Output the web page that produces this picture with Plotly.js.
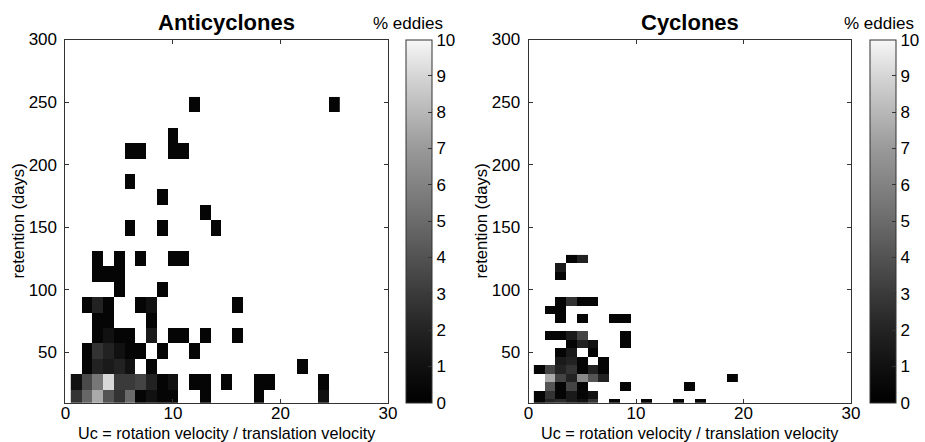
<!DOCTYPE html>
<html>
<head>
<meta charset="utf-8">
<script src="https://cdn.plot.ly/plotly-3.0.1.min.js"></script>
<style>
  html, body { margin: 0; padding: 0; background: #fff; }
  #chart { width: 925px; height: 442px; }
</style>
</head>
<body>
<div id="chart"></div>
<script>
// Joint distribution of eddy retention time and Uc, in % of eddies per bin.
// Uc bins are 1 wide (centred on integers); retention bins are listed by index.

// Anticyclones: retention bins start at 14.2 days, 12.3 days wide
const antiBinStart = 14.2;
const antiBinWidth = 12.3;
const antiUc = [
  1, 2, 3, 4, 5, 6, 7, 8, 9, 10, 13, 18, 24,
  1, 2, 3, 4, 5, 6, 7, 8, 9, 10, 12, 13, 15, 18, 19, 24,
  2, 3, 4, 5, 6, 8, 22,
  2, 3, 4, 5, 6, 7, 9, 12,
  3, 4, 5, 6, 8, 10, 11, 13, 16,
  3, 4, 8,
  2, 3, 4, 7, 8, 16,
  5, 9,
  3, 4, 5,
  3, 5, 7, 10, 11,
  6, 9, 14,
  13,
  9,
  6,
  6, 7, 10, 11,
  10,
  12, 25
];
const antiRetBin = [
  0, 0, 0, 0, 0, 0, 0, 0, 0, 0, 0, 0, 0,
  1, 1, 1, 1, 1, 1, 1, 1, 1, 1, 1, 1, 1, 1, 1, 1,
  2, 2, 2, 2, 2, 2, 2,
  3, 3, 3, 3, 3, 3, 3, 3,
  4, 4, 4, 4, 4, 4, 4, 4, 4,
  5, 5, 5,
  6, 6, 6, 6, 6, 6,
  7, 7,
  8, 8, 8,
  9, 9, 9, 9, 9,
  11, 11, 11,
  12,
  13,
  14,
  16, 16, 16, 16,
  17,
  19, 19
];
const antiPct = [
  2.7, 4.8, 7.55, 4.1, 2.7, 4.95, 0.3, 1.05, 0.3, 0.3, 0.3, 0.3, 1.05,
  1.05, 3.65, 5.5, 9.1, 3.0, 3.0, 3.4, 1.95, 0.3, 1.05, 0.3, 0.3, 0.3, 0.3, 0.3, 0.3,
  0.3, 1.95, 1.5, 1.95, 1.05, 0.3, 0.3,
  0.3, 2.7, 1.95, 1.05, 0.3, 0.3, 0.3, 0.3,
  0.3, 1.05, 0.3, 0.3, 1.5, 0.3, 0.3, 0.3, 0.3,
  0.3, 0.3, 0.3,
  0.3, 1.95, 0.3, 0.3, 1.05, 0.3,
  0.3, 0.3,
  0.3, 0.3, 0.3,
  0.3, 0.3, 0.3, 0.3, 0.3,
  0.3, 0.3, 0.3,
  0.3,
  0.3,
  0.3,
  0.3, 0.3, 0.3, 0.3,
  0.3,
  0.3, 0.3
];

// Cyclones: retention bins start at 9.1 days, 6.78 days wide
const cycBinStart = 9.1;
const cycBinWidth = 6.78;
const cycUc = [
  1, 2, 3, 4, 5, 6, 8, 11, 14, 16,
  1, 2, 3, 4, 5, 6,
  2, 3, 4, 5, 9, 15,
  2, 3, 4, 5, 6, 7, 19,
  1, 2, 3, 4, 5, 6, 7,
  3, 4, 5, 7,
  3, 4, 6,
  4, 5, 6, 9,
  2, 3, 4, 5, 9,
  3, 5, 8, 9,
  2, 3,
  3, 4, 5, 6,
  3,
  3,
  4, 5
];
const cycRetBin = [
  0, 0, 0, 0, 0, 0, 0, 0, 0, 0,
  1, 1, 1, 1, 1, 1,
  2, 2, 2, 2, 2, 2,
  3, 3, 3, 3, 3, 3, 3,
  4, 4, 4, 4, 4, 4, 4,
  5, 5, 5, 5,
  6, 6, 6,
  7, 7, 7, 7,
  8, 8, 8, 8, 8,
  10, 10, 10, 10,
  11, 11,
  12, 12, 12, 12,
  15,
  16,
  17, 17
];
const cycPct = [
  0.3, 1.95, 2.3, 1.5, 1.05, 2.7, 0.3, 0.3, 0.3, 0.3,
  0.3, 2.7, 0.3, 1.5, 0.3, 1.05,
  4.1, 0.3, 3.4, 0.3, 0.3, 0.3,
  7.55, 3.4, 1.95, 6.25, 4.1, 1.95, 0.3,
  0.3, 3.4, 1.95, 2.7, 0.3, 1.95, 0.3,
  1.5, 1.95, 0.3, 0.3,
  0.3, 1.5, 0.3,
  0.3, 1.95, 1.05, 0.3,
  0.3, 0.3, 1.5, 3.4, 0.3,
  0.3, 0.3, 0.3, 0.3,
  0.3, 0.3,
  0.3, 2.7, 0.3, 0.3,
  0.3,
  1.5,
  0.3, 1.95
];

// Axis ticks
const xTicks = [0, 10, 20, 30];
const yTicks = [50, 100, 150, 200, 250, 300];
const cbTicks = [0, 1, 2, 3, 4, 5, 6, 7, 8, 9, 10];

// Grey colour map, 0 % black to 10 % white
const greyScale = [
  [0.0, '#000000'], [0.1, '#101010'], [0.2, '#232323'], [0.3, '#3a3a3a'],
  [0.4, '#525252'], [0.5, '#6b6b6b'], [0.6, '#828282'], [0.7, '#999999'],
  [0.8, '#b7b7b7'], [0.9, '#d5d5d5'], [1.0, '#f7f7f7']
];

// Turn the bin lists into a regular grid for the heatmap (empty bins stay blank)
function grid(uc, bin, pct, start, width) {
  const nx = Math.max(...uc);
  const ny = Math.max(...bin) + 1;
  const x = Array.from({length: nx}, (_, i) => i + 1);
  const y = Array.from({length: ny}, (_, j) => start + j * width);
  const z = Array.from({length: ny}, () => Array(nx).fill(null));
  uc.forEach((u, k) => { z[bin[k]][u - 1] = pct[k]; });
  return {x, y, z};
}

const W = 925, H = 442;
const fx = p => p / W;          // page pixel -> paper fraction (x)
const fy = p => 1 - p / H;      // page pixel -> paper fraction (y)

const plotL = [65.4, 388.0], plotR = [528.5, 851.0];
const plotTop = 39.5, plotBottom = 402.7;
const FONT = 'Liberation Sans, Arial, Helvetica, sans-serif';
const TICK_SIZE = 17;

const gA = grid(antiUc, antiRetBin, antiPct, antiBinStart, antiBinWidth);
const gC = grid(cycUc, cycRetBin, cycPct, cycBinStart, cycBinWidth);

function colorbar(leftPx) {
  return {
    x: fx(leftPx), xanchor: 'left', xpad: 0,
    y: fy((plotTop + plotBottom) / 2), yanchor: 'middle', ypad: 0,
    len: plotBottom - plotTop, lenmode: 'pixels',
    thickness: 26, thicknessmode: 'pixels',
    outlinecolor: '#333', outlinewidth: 1,
    tickmode: 'array', tickvals: cbTicks,
    ticks: 'inside', ticklen: 4, tickcolor: '#333',
    tickfont: {family: FONT, size: TICK_SIZE, color: '#000'},
    ticklabelstandoff: 1
  };
}

const traces = [
  {
    type: 'heatmap', x: gA.x, y: gA.y, z: gA.z,
    xaxis: 'x', yaxis: 'y',
    zmin: 0, zmax: 10, colorscale: greyScale, zsmooth: false,
    colorbar: colorbar(406)
  },
  {
    type: 'heatmap', x: gC.x, y: gC.y, z: gC.z,
    xaxis: 'x2', yaxis: 'y2',
    zmin: 0, zmax: 10, colorscale: greyScale, zsmooth: false,
    colorbar: colorbar(870)
  }
];

function xAxis(dom, anchor) {
  return {
    domain: [fx(dom[0]), fx(dom[1])], anchor: anchor,
    range: [0, 30], tickmode: 'array', tickvals: xTicks,
    ticks: 'inside', ticklen: 4, tickcolor: '#333',
    showline: true, linecolor: '#333', linewidth: 1, mirror: 'ticks',
    showgrid: false, zeroline: false,
    tickfont: {family: FONT, size: TICK_SIZE, color: '#000'},
    ticklabelstandoff: -5
  };
}
function yAxis(anchor) {
  return {
    domain: [fy(plotBottom), fy(plotTop)], anchor: anchor,
    range: [9.6, 300], tickmode: 'array', tickvals: yTicks,
    ticks: 'inside', ticklen: 4, tickcolor: '#333',
    showline: true, linecolor: '#333', linewidth: 1, mirror: 'ticks',
    showgrid: false, zeroline: false,
    tickfont: {family: FONT, size: TICK_SIZE, color: '#000'},
    ticklabelstandoff: 4
  };
}

function note(text, xPx, yPx, size, extra) {
  return Object.assign({
    text: text, xref: 'paper', yref: 'paper',
    x: fx(xPx), y: fy(yPx), xanchor: 'center', yanchor: 'middle',
    showarrow: false, font: {family: FONT, size: size, color: '#000'}
  }, extra || {});
}

const midL = (plotL[0] + plotL[1]) / 2, midR = (plotR[0] + plotR[1]) / 2;

const layout = {
  width: W, height: H,
  margin: {l: 0, r: 0, t: 0, b: 0},
  paper_bgcolor: '#fff', plot_bgcolor: '#fff',
  showlegend: false,
  xaxis: xAxis(plotL, 'y'),
  yaxis: yAxis('x'),
  xaxis2: xAxis(plotR, 'y2'),
  yaxis2: yAxis('x2'),
  annotations: [
    note('<b>Anticyclones</b>', midL, 22, 22),
    note('<b>Cyclones</b>', midR, 22, 22),
    note('% eddies', 408, 23, 17),
    note('% eddies', 879, 23, 17),
    note('Uc = rotation velocity / translation velocity', midL, 433, 16.2),
    note('Uc = rotation velocity / translation velocity', midR, 433, 16.2),
    note('retention (days)', 18.5, (plotTop + plotBottom) / 2, 16.6, {textangle: -90}),
    note('retention (days)', 481.5, (plotTop + plotBottom) / 2, 16.6, {textangle: -90})
  ]
};

Plotly.newPlot('chart', traces, layout, {displayModeBar: false, staticPlot: true});
</script>
</body>
</html>
